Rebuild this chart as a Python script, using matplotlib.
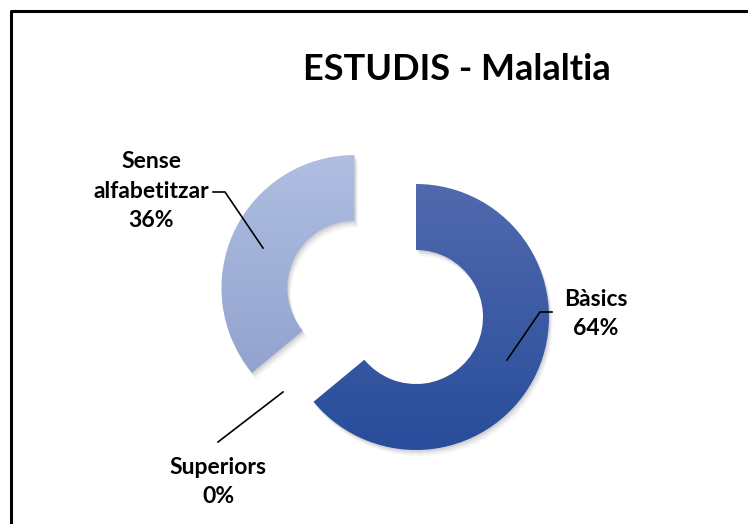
import numpy as np
import matplotlib.pyplot as plt
from matplotlib.colors import LinearSegmentedColormap
from matplotlib.patches import Wedge

# data
labels = ['Bàsics', 'Superiors', 'Sense\nalfabetitzar']
values = [64, 0, 36]
pct_labels = ['64%', '0%', '36%']
top_colors = ['#5169ad', '#8fa0cc', '#afbee1']
bottom_colors = ['#284d9b', '#8fa0cc', '#8c9dca']

plt.rcParams['font.family'] = ['Lato', 'DejaVu Sans']

fig = plt.figure(figsize=(7.48, 5.24), dpi=100)
ax = fig.add_axes([0, 0, 1, 1])

# frame (left and top only)
ax.plot([11, 11, 748], [0, 513, 513], color='black', lw=2.2, solid_capstyle='butt')

center = (416, 207)
radius = 133
wedges, _ = ax.pie(values, startangle=90, counterclock=False, center=center,
                   radius=radius, explode=[0, 0, 68], frame=True,
                   wedgeprops=dict(width=66, linewidth=0))
ax.set_aspect('equal')
ax.axis('off')

for w, c1, c2, v in zip(wedges, top_colors, bottom_colors, values):
    if v == 0:
        w.set_visible(False)
        continue
    # soft shadow
    for k, a in [(6, 0.04), (4, 0.06), (2, 0.08)]:
        sh = Wedge((w.center[0] + k * 0.6, w.center[1] - k), w.r, w.theta1, w.theta2,
                   width=w.width, facecolor='black', alpha=a, lw=0, zorder=1)
        ax.add_patch(sh)
    w.set_facecolor('none')
    w.set_zorder(2)
    cx, cy = w.center
    ext = [cx - w.r, cx + w.r, cy - w.r, cy + w.r]
    cmap = LinearSegmentedColormap.from_list('g', [c2, c1])
    grad = np.linspace(0, 1, 256).reshape(-1, 1)
    im = ax.imshow(grad, cmap=cmap, extent=ext, origin='lower', aspect='auto', zorder=3)
    im.set_clip_path(w)

ax.set_xlim(0, 748)
ax.set_ylim(0, 524)

ax.text(457, 454, 'ESTUDIS - Malaltia', ha='center', va='center',
        fontsize=26, fontweight='bold')

lab_kw = dict(ha='center', va='center', fontsize=16.5, fontweight='bold', linespacing=1.5, zorder=5)
ax.text(596, 210, labels[0] + '\n' + pct_labels[0], **lab_kw)
ax.text(218, 42, labels[1] + '\n' + pct_labels[1], **lab_kw)
ax.text(151, 333, labels[2] + '\n' + pct_labels[2], **lab_kw)

line_kw = dict(color='black', lw=1.2, zorder=6)
ax.plot([552, 540, 507], [212, 212, 164], **line_kw)
ax.plot([218, 283], [82, 132], **line_kw)
ax.plot([213, 225, 263], [332, 332, 276], **line_kw)

fig.savefig('out.png', dpi=100, facecolor='white')
